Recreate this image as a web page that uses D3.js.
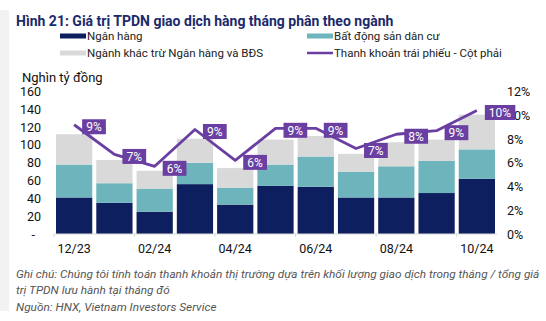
<!DOCTYPE html>
<html>
<head>
<meta charset="utf-8">
<script src="https://cdn.jsdelivr.net/npm/d3@7"></script>
<style>
  body { margin: 0; background: #fff; }
  svg { font-family: Roboto, "Noto Sans", sans-serif; display: block; }
</style>
</head>
<body>
<div id="chart"></div>
<script>
// Monthly data, 12/23 .. 10/24
const months = ["12/23","01/24","02/24","03/24","04/24","05/24","06/24","07/24","08/24","09/24","10/24"];
const banks = [41, 35, 25, 56, 33, 54, 53, 41, 41, 46, 62];
const realEstate = [37, 22, 26, 24, 19, 24, 34, 29, 35, 36, 33];
const others = [34, 26, 20, 27, 22, 28, 23, 20, 27, 24, 39];
const liquidity = [9.2, 6.7, 5.7, 8.8, 6.2, 8.9, 8.9, 7.2, 8.4, 8.7, 10.4];
const leftTicks = [0, 20, 40, 60, 80, 100, 120, 140, 160];
const rightTicks = [0, 2, 4, 6, 8, 10, 12];

const W = 546, H = 321;
const colors = { banks: "#0e1f5f", realEstate: "#6db4bc", others: "#d9d9d9", line: "#6a3fa1" };

const svg = d3.select("#chart").append("svg")
    .attr("width", W)
    .attr("height", H);

// grey strip on the left edge
svg.append("rect")
    .attr("x", 0).attr("y", 10)
    .attr("width", 9).attr("height", 301)
    .attr("fill", "#f2f2f2");

// Title
svg.append("text")
    .attr("x", 16).attr("y", 26)
    .style("font-size", "14px")
    .style("font-weight", "bold")
    .style("fill", "#1b2a6b")
    .text("Hình 21: Giá trị TPDN giao dịch hàng tháng phân theo ngành");

// Legend
const legendItems = [
    { label: "Ngân hàng", color: colors.banks, type: "bar", x: 60, y: 36 },
    { label: "Bất động sản dân cư", color: colors.realEstate, type: "bar", x: 307, y: 36 },
    { label: "Ngành khác trừ Ngân hàng và BĐS", color: colors.others, type: "bar", x: 60, y: 53 },
    { label: "Thanh khoản trái phiếu - Cột phải", color: colors.line, type: "line", x: 307, y: 53 }
];
const legend = svg.append("g").attr("class", "legend");
legendItems.forEach(d => {
    legend.append("rect")
        .attr("x", d.x)
        .attr("y", d.type === "bar" ? d.y - 2.5 : d.y - 1.25)
        .attr("width", 26)
        .attr("height", d.type === "bar" ? 5 : 2.5)
        .attr("fill", d.color);
    legend.append("text")
        .attr("x", d.x + 27)
        .attr("y", d.y)
        .attr("dy", "0.35em")
        .style("font-size", "11.5px")
        .style("fill", "#222")
        .text(d.label);
});

// Scales
const plot = { left: 54, right: 497, top: 91.5, bottom: 234 };

const x = d3.scaleBand()
    .domain(months)
    .range([plot.left, plot.right])
    .paddingInner(0.1)
    .paddingOuter(0.05);

const y = d3.scaleLinear().domain([0, 160]).range([plot.bottom, plot.top]);
const y2 = d3.scaleLinear().domain([0, 12]).range([plot.bottom, plot.top]);

// Axis title
svg.append("text")
    .attr("x", 22).attr("y", 82)
    .style("font-size", "13px")
    .style("fill", "#111")
    .text("Nghìn tỷ đồng");

// Left axis
const leftAxis = svg.append("g")
    .attr("transform", `translate(41,0)`)
    .call(d3.axisLeft(y).tickValues(leftTicks).tickSize(0).tickPadding(0)
        .tickFormat(d => d === 0 ? "-" : d));
leftAxis.select(".domain").remove();
leftAxis.selectAll("text")
    .style("font-size", "12.5px")
    .style("fill", "#111")
    .style("font-family", "Roboto, sans-serif")
    .attr("dx", d => d === 0 ? -6 : 0);

// Right axis
const rightAxis = svg.append("g")
    .attr("transform", `translate(507,0)`)
    .call(d3.axisRight(y2).tickValues(rightTicks).tickSize(0).tickPadding(0)
        .tickFormat(d => d + "%"));
rightAxis.select(".domain").remove();
rightAxis.selectAll("text")
    .style("font-size", "12.5px")
    .style("fill", "#111")
    .style("font-family", "Roboto, sans-serif");

// Stacked bars
const rows = months.map((m, i) => ({ month: m, banks: banks[i], realEstate: realEstate[i], others: others[i] }));
const series = d3.stack().keys(["banks", "realEstate", "others"])(rows);

svg.append("g").selectAll("g")
    .data(series)
    .join("g")
    .attr("fill", d => colors[d.key])
    .selectAll("rect")
    .data(d => d)
    .join("rect")
    .attr("x", d => x(d.data.month))
    .attr("y", d => y(d[1]))
    .attr("width", x.bandwidth())
    .attr("height", d => y(d[0]) - y(d[1]));

// Bottom axis
const step = x.step();
const bottom = svg.append("g")
    .attr("transform", `translate(0,${plot.bottom})`);
bottom.append("line")
    .attr("x1", plot.left).attr("x2", plot.right)
    .attr("stroke", "#d9d9d9").attr("stroke-width", 1);
bottom.selectAll("line.tick")
    .data(months.filter((m, i) => i % 2 === 0))
    .join("line")
    .attr("class", "tick")
    .attr("x1", (d, i) => plot.left + i * 2 * step)
    .attr("x2", (d, i) => plot.left + i * 2 * step)
    .attr("y1", 0).attr("y2", 3)
    .attr("stroke", "#d9d9d9");
bottom.selectAll("text")
    .data(months.filter((m, i) => i % 2 === 0))
    .join("text")
    .attr("x", d => x(d) + x.bandwidth() / 2)
    .attr("y", 15)
    .attr("dy", "0.35em")
    .attr("text-anchor", "middle")
    .style("font-size", "12.5px")
    .style("fill", "#111")
    .text(d => d);

// Liquidity line
const line = d3.line()
    .x((d, i) => x(months[i]) + x.bandwidth() / 2)
    .y(d => y2(d));

svg.append("path")
    .datum(liquidity)
    .attr("fill", "none")
    .attr("stroke", colors.line)
    .attr("stroke-width", 2.8)
    .attr("stroke-linejoin", "round")
    .attr("d", line);

// Value labels
const labels = svg.append("g").selectAll("g")
    .data(liquidity)
    .join("g")
    .attr("transform", (d, i) => `translate(${x(months[i]) + x.bandwidth() / 2 + 8},${y2(d) + 2})`);

labels.append("text")
    .attr("x", 4)
    .attr("dy", "0.36em")
    .style("font-size", "12px")
    .style("fill", "#fff")
    .text(d => Math.round(d) + "%");

labels.each(function() {
    const g = d3.select(this);
    const bb = g.select("text").node().getBBox();
    g.insert("rect", "text")
        .attr("x", 0)
        .attr("y", -7.5)
        .attr("width", bb.width + 8)
        .attr("height", 15)
        .attr("fill", colors.line);
});

// Footnotes
const notes = [
    "Ghi chú: Chúng tôi tính toán thanh khoản thị trường dựa trên khối lượng giao dịch trong tháng / tổng giá",
    "trị TPDN lưu hành tại tháng đó",
    "Nguồn: HNX, Vietnam Investors Service"
];
svg.append("g").selectAll("text")
    .data(notes)
    .join("text")
    .attr("x", 16)
    .attr("y", (d, i) => 273.5 + i * 16.5)
    .attr("dy", "0.35em")
    .style("font-size", "11.8px")
    .style("font-style", "italic")
    .style("fill", "#555")
    .text(d => d);
</script>
</body>
</html>
